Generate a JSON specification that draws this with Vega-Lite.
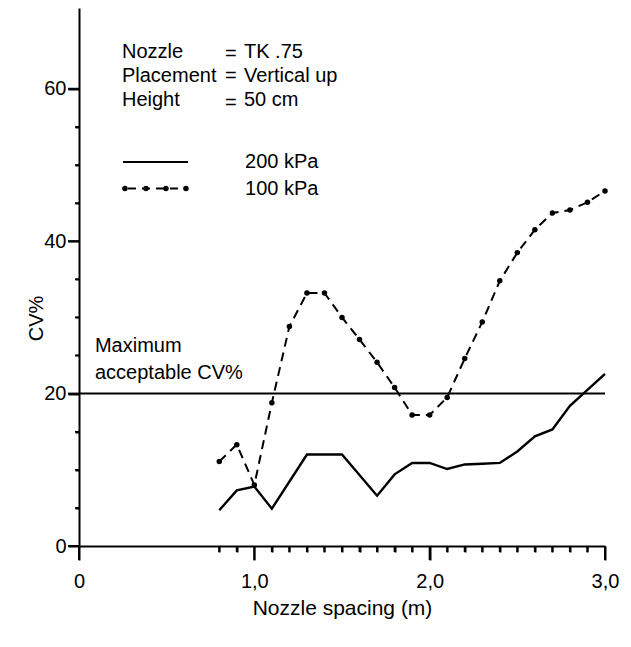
{
  "$schema": "https://vega.github.io/schema/vega-lite/v6.json",
  "width": 526,
  "height": 538,
  "autosize": {"type": "none"},
  "padding": {"left": 79, "top": 8, "right": 26, "bottom": 101},
  "background": "white",
  "config": {
    "view": {"stroke": null},
    "font": "Liberation Sans",
    "axis": {
      "grid": false,
      "domainColor": "black",
      "tickColor": "black",
      "labelColor": "black",
      "titleColor": "black",
      "titleFontWeight": "normal"
    }
  },
  "data": {
    "values": [
      {"spacing": 0.8, "cv": 4.7, "series": "200 kPa"},
      {"spacing": 0.9, "cv": 7.3, "series": "200 kPa"},
      {"spacing": 1.0, "cv": 7.8, "series": "200 kPa"},
      {"spacing": 1.1, "cv": 4.9, "series": "200 kPa"},
      {"spacing": 1.3, "cv": 12.0, "series": "200 kPa"},
      {"spacing": 1.5, "cv": 12.0, "series": "200 kPa"},
      {"spacing": 1.7, "cv": 6.6, "series": "200 kPa"},
      {"spacing": 1.8, "cv": 9.4, "series": "200 kPa"},
      {"spacing": 1.9, "cv": 10.9, "series": "200 kPa"},
      {"spacing": 2.0, "cv": 10.9, "series": "200 kPa"},
      {"spacing": 2.1, "cv": 10.1, "series": "200 kPa"},
      {"spacing": 2.2, "cv": 10.7, "series": "200 kPa"},
      {"spacing": 2.3, "cv": 10.8, "series": "200 kPa"},
      {"spacing": 2.4, "cv": 10.9, "series": "200 kPa"},
      {"spacing": 2.5, "cv": 12.4, "series": "200 kPa"},
      {"spacing": 2.6, "cv": 14.4, "series": "200 kPa"},
      {"spacing": 2.7, "cv": 15.3, "series": "200 kPa"},
      {"spacing": 2.8, "cv": 18.4, "series": "200 kPa"},
      {"spacing": 3.0, "cv": 22.6, "series": "200 kPa"},
      {"spacing": 0.8, "cv": 11.1, "series": "100 kPa"},
      {"spacing": 0.9, "cv": 13.3, "series": "100 kPa"},
      {"spacing": 1.0, "cv": 8.0, "series": "100 kPa"},
      {"spacing": 1.1, "cv": 18.8, "series": "100 kPa"},
      {"spacing": 1.2, "cv": 28.8, "series": "100 kPa"},
      {"spacing": 1.3, "cv": 33.2, "series": "100 kPa"},
      {"spacing": 1.4, "cv": 33.2, "series": "100 kPa"},
      {"spacing": 1.5, "cv": 30.0, "series": "100 kPa"},
      {"spacing": 1.6, "cv": 27.1, "series": "100 kPa"},
      {"spacing": 1.7, "cv": 24.1, "series": "100 kPa"},
      {"spacing": 1.8, "cv": 20.8, "series": "100 kPa"},
      {"spacing": 1.9, "cv": 17.2, "series": "100 kPa"},
      {"spacing": 2.0, "cv": 17.2, "series": "100 kPa"},
      {"spacing": 2.1, "cv": 19.5, "series": "100 kPa"},
      {"spacing": 2.2, "cv": 24.6, "series": "100 kPa"},
      {"spacing": 2.3, "cv": 29.4, "series": "100 kPa"},
      {"spacing": 2.4, "cv": 34.8, "series": "100 kPa"},
      {"spacing": 2.5, "cv": 38.5, "series": "100 kPa"},
      {"spacing": 2.6, "cv": 41.5, "series": "100 kPa"},
      {"spacing": 2.7, "cv": 43.7, "series": "100 kPa"},
      {"spacing": 2.8, "cv": 44.1, "series": "100 kPa"},
      {"spacing": 2.9, "cv": 45.1, "series": "100 kPa"},
      {"spacing": 3.0, "cv": 46.6, "series": "100 kPa"},
      {"spacing": 0.0, "cv": 20, "series": "limit"},
      {"spacing": 3.0, "cv": 20, "series": "limit"},
      {"spacing": 0.251, "cv": 50.4, "series": "key200"},
      {"spacing": 0.622, "cv": 50.4, "series": "key200"},
      {"spacing": 0.262, "cv": 46.9, "series": "key100"},
      {"spacing": 0.382, "cv": 46.9, "series": "key100"},
      {"spacing": 0.496, "cv": 46.9, "series": "key100"},
      {"spacing": 0.610, "cv": 46.9, "series": "key100"},
      {"spacing": 0.245, "cv": 64.0, "series": "note", "label": "Nozzle"},
      {"spacing": 0.833, "cv": 63.8, "series": "note", "label": "="},
      {"spacing": 0.941, "cv": 64.0, "series": "note", "label": "TK .75"},
      {"spacing": 0.245, "cv": 60.9, "series": "note", "label": "Placement"},
      {"spacing": 0.833, "cv": 60.9, "series": "note", "label": "="},
      {"spacing": 0.941, "cv": 60.9, "series": "note", "label": "Vertical up"},
      {"spacing": 0.245, "cv": 57.7, "series": "note", "label": "Height"},
      {"spacing": 0.833, "cv": 57.4, "series": "note", "label": "="},
      {"spacing": 0.941, "cv": 57.7, "series": "note", "label": "50 cm"},
      {"spacing": 0.947, "cv": 49.6, "series": "note", "label": "200 kPa"},
      {"spacing": 0.947, "cv": 46.1, "series": "note", "label": "100 kPa"},
      {"spacing": 0.091, "cv": 25.5, "series": "note", "label": "Maximum"},
      {"spacing": 0.091, "cv": 21.9, "series": "note", "label": "acceptable CV%"},
      {"spacing": 0, "cv": 0, "series": "xmajor"},
      {"spacing": 1, "cv": 0, "series": "xmajor"},
      {"spacing": 2, "cv": 0, "series": "xmajor"},
      {"spacing": 3, "cv": 0, "series": "xmajor"},
      {"spacing": 0.8, "cv": 0, "series": "xminor"},
      {"spacing": 0.9, "cv": 0, "series": "xminor"},
      {"spacing": 1.1, "cv": 0, "series": "xminor"},
      {"spacing": 1.2, "cv": 0, "series": "xminor"},
      {"spacing": 1.3, "cv": 0, "series": "xminor"},
      {"spacing": 1.4, "cv": 0, "series": "xminor"},
      {"spacing": 1.5, "cv": 0, "series": "xminor"},
      {"spacing": 1.6, "cv": 0, "series": "xminor"},
      {"spacing": 1.7, "cv": 0, "series": "xminor"},
      {"spacing": 1.8, "cv": 0, "series": "xminor"},
      {"spacing": 1.9, "cv": 0, "series": "xminor"},
      {"spacing": 2.1, "cv": 0, "series": "xminor"},
      {"spacing": 2.2, "cv": 0, "series": "xminor"},
      {"spacing": 2.3, "cv": 0, "series": "xminor"},
      {"spacing": 2.4, "cv": 0, "series": "xminor"},
      {"spacing": 2.5, "cv": 0, "series": "xminor"},
      {"spacing": 2.6, "cv": 0, "series": "xminor"},
      {"spacing": 2.7, "cv": 0, "series": "xminor"},
      {"spacing": 2.8, "cv": 0, "series": "xminor"},
      {"spacing": 2.9, "cv": 0, "series": "xminor"},
      {"spacing": 0, "cv": 0, "series": "ymajor"},
      {"spacing": 0, "cv": 20, "series": "ymajor"},
      {"spacing": 0, "cv": 40, "series": "ymajor"},
      {"spacing": 0, "cv": 60, "series": "ymajor"},
      {"spacing": 0, "cv": 5, "series": "yminor"},
      {"spacing": 0, "cv": 10, "series": "yminor"},
      {"spacing": 0, "cv": 15, "series": "yminor"},
      {"spacing": 0, "cv": 25, "series": "yminor"},
      {"spacing": 0, "cv": 30, "series": "yminor"},
      {"spacing": 0, "cv": 35, "series": "yminor"},
      {"spacing": 0, "cv": 45, "series": "yminor"},
      {"spacing": 0, "cv": 50, "series": "yminor"},
      {"spacing": 0, "cv": 55, "series": "yminor"}
    ]
  },
  "encoding": {
    "x": {
      "field": "spacing", "type": "quantitative",
      "scale": {"domain": [0, 3], "nice": false, "zero": false},
      "axis": {
        "values": [0, 0.8, 0.9, 1, 1.1, 1.2, 1.3, 1.4, 1.5, 1.6, 1.7, 1.8, 1.9, 2, 2.1, 2.2, 2.3, 2.4, 2.5, 2.6, 2.7, 2.8, 2.9, 3],
        "labelExpr": "datum.value % 1 != 0 ? '' : (datum.value == 0 ? '0' : replace(format(datum.value, '.1f'), '.', ','))",
        "labelFontSize": 20,
        "labelPadding": 11,
        "labelFlush": false,
        "labelOverlap": false,
        "tickSize": {"condition": {"test": "datum.value % 1 == 0", "value": 14}, "value": 6},
        "tickWidth": 2,
        "domainWidth": 2,
        "title": "Nozzle spacing (m)",
        "titleFontSize": 21,
        "titlePadding": 6
      }
    },
    "y": {
      "field": "cv", "type": "quantitative",
      "scale": {"domain": [0, 70.6], "nice": false},
      "axis": {
        "values": [0, 5, 10, 15, 20, 25, 30, 35, 40, 45, 50, 55, 60],
        "labelExpr": "datum.value % 20 == 0 ? format(datum.value, 'd') : ''",
        "labelFontSize": 20,
        "labelPadding": 2,
        "labelFlush": false,
        "labelOverlap": false,
        "tickSize": {"condition": {"test": "datum.value % 20 == 0", "value": 11}, "value": 4},
        "tickWidth": 2,
        "domainWidth": 2,
        "title": "CV%",
        "titleFontSize": 20,
        "titleAngle": 270,
        "titleAlign": "center",
        "titleBaseline": "bottom",
        "titleX": -33,
        "titleY": 310
      }
    }
  },
  "layer": [
    {
      "transform": [{"filter": "datum.series == '200 kPa'"}],
      "mark": {"type": "line", "color": "black", "strokeWidth": 2.4}
    },
    {
      "transform": [{"filter": "datum.series == 'limit'"}],
      "mark": {"type": "line", "color": "black", "strokeWidth": 2}
    },
    {
      "transform": [{"filter": "datum.series == '100 kPa'"}],
      "mark": {"type": "line", "color": "black", "strokeWidth": 2, "strokeDash": [9, 6]}
    },
    {
      "transform": [{"filter": "datum.series == '100 kPa' || datum.series == 'key100'"}],
      "mark": {"type": "point", "filled": true, "color": "black", "size": 30, "opacity": 1}
    },
    {
      "transform": [{"filter": "datum.series == 'key200'"}],
      "mark": {"type": "line", "color": "black", "strokeWidth": 2}
    },
    {
      "transform": [{"filter": "datum.series == 'key100'"}],
      "mark": {"type": "line", "color": "black", "strokeWidth": 2, "strokeDash": [8, 6], "strokeDashOffset": -3}
    },
    {
      "transform": [{"filter": "datum.series == 'xmajor'"}],
      "mark": {"type": "tick", "orient": "vertical", "color": "black", "size": 14, "thickness": 2, "yOffset": 7, "opacity": 1}
    },
    {
      "transform": [{"filter": "datum.series == 'xminor'"}],
      "mark": {"type": "tick", "orient": "vertical", "color": "black", "size": 6, "thickness": 2, "yOffset": 3, "opacity": 1}
    },
    {
      "transform": [{"filter": "datum.series == 'ymajor'"}],
      "mark": {"type": "tick", "orient": "horizontal", "color": "black", "size": 11, "thickness": 2, "xOffset": -5.5, "opacity": 1}
    },
    {
      "transform": [{"filter": "datum.series == 'yminor'"}],
      "mark": {"type": "tick", "orient": "horizontal", "color": "black", "size": 4, "thickness": 1.5, "xOffset": -2, "opacity": 1}
    },
    {
      "transform": [{"filter": "datum.series == 'note'"}],
      "mark": {"type": "text", "align": "left", "baseline": "alphabetic", "fontSize": 20, "color": "black", "font": "Liberation Sans"},
      "encoding": {"text": {"field": "label"}}
    }
  ]
}
